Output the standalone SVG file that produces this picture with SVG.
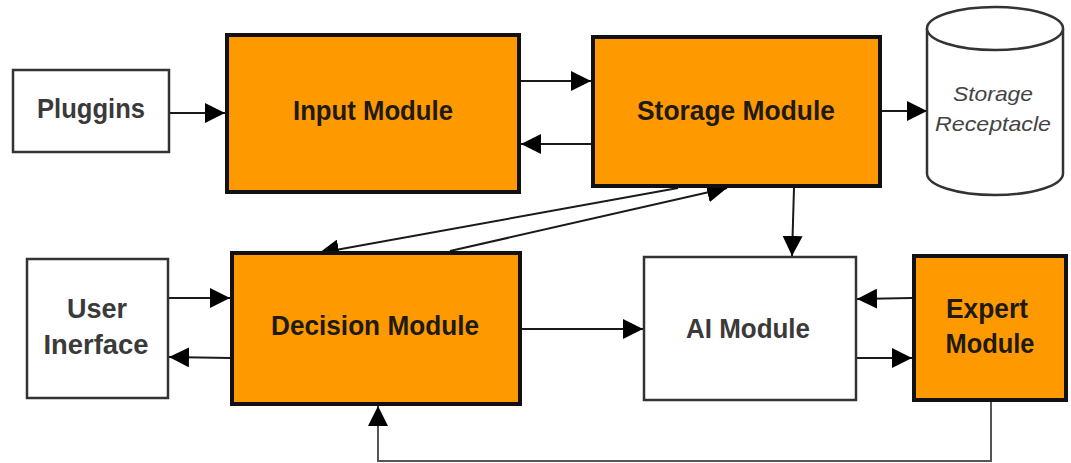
<svg xmlns="http://www.w3.org/2000/svg" width="1071" height="463" viewBox="0 0 1071 463">
<style>
.orange{fill:#fe9900;stroke:#111;stroke-width:4}
.white{fill:#fff;stroke:#333;stroke-width:2.5}
.bt{font-family:"Liberation Sans",Arial,sans-serif;font-weight:bold;font-size:28px;text-anchor:middle;lengthAdjust:spacingAndGlyphs}
.dark{fill:#1e1a14}
.grey{fill:#3a3a3a}
.it{font-family:"Liberation Sans",Arial,sans-serif;font-style:italic;font-size:21px;fill:#444;text-anchor:middle}
.con{stroke:#1a1a1a;stroke-width:2;fill:none;marker-end:url(#ah)}
.fb{stroke:#555;stroke-width:2;fill:none;marker-end:url(#ah)}
</style>
<defs>
<marker id="ah" markerUnits="userSpaceOnUse" markerWidth="20" markerHeight="20" refX="20" refY="10" orient="auto">
<path d="M0,0 L20,10 L0,20 z" fill="#000"/>
</marker>
</defs>
<rect width="1071" height="463" fill="#fff"/>
<g id="connectors">
<line class="con" x1="170" y1="113" x2="225" y2="113"/>
<line class="con" x1="521" y1="81" x2="591" y2="81"/>
<line class="con" x1="591" y1="144" x2="521" y2="144"/>
<line class="con" x1="882" y1="111" x2="927" y2="111"/>
<line class="con" x1="678" y1="188" x2="319" y2="253"/>
<line class="con" x1="450" y1="251" x2="727" y2="188"/>
<line class="con" x1="794" y1="188" x2="792" y2="256"/>
<line class="con" x1="169" y1="298" x2="230" y2="298"/>
<line class="con" x1="230" y1="358" x2="169" y2="357"/>
<line class="con" x1="522" y1="329" x2="643" y2="329"/>
<line class="con" x1="912" y1="298" x2="857" y2="299"/>
<line class="con" x1="857" y1="358" x2="912" y2="358"/>
<polyline class="fb" points="991,402 991,461 378,461 378,406"/>
</g>
<g id="pluggins">
<rect class="white" x="13" y="70" width="156" height="82"/>
<text class="bt grey" x="91" y="118" textLength="108" lengthAdjust="spacingAndGlyphs">Pluggins</text>
</g>
<g id="input-module">
<rect class="orange" x="227" y="35" width="292" height="157"/>
<text class="bt dark" x="373" y="120" textLength="160" lengthAdjust="spacingAndGlyphs">Input Module</text>
</g>
<g id="storage-module">
<rect class="orange" x="593" y="37" width="287" height="149"/>
<text class="bt dark" x="736" y="120" textLength="198" lengthAdjust="spacingAndGlyphs">Storage Module</text>
</g>
<g id="storage-receptacle">
<path d="M927,28.5 L927,173.5 A68,21.5 0 0 0 1063,173.5 L1063,28.5" fill="#fff" stroke="#333" stroke-width="2.5"/>
<ellipse cx="995" cy="28.5" rx="68" ry="21.5" fill="#fff" stroke="#333" stroke-width="2.5"/>
<text class="it" x="993" y="101" textLength="80" lengthAdjust="spacingAndGlyphs">Storage</text>
<text class="it" x="993" y="131" textLength="116" lengthAdjust="spacingAndGlyphs">Receptacle</text>
</g>
<g id="user-interface">
<rect class="white" x="27" y="259" width="141" height="139"/>
<text class="bt grey" x="97" y="318" textLength="60" lengthAdjust="spacingAndGlyphs">User</text>
<text class="bt grey" x="96" y="354" textLength="105" lengthAdjust="spacingAndGlyphs">Inerface</text>
</g>
<g id="decision-module">
<rect class="orange" x="232" y="253" width="288" height="151"/>
<text class="bt dark" x="375" y="335" textLength="208" lengthAdjust="spacingAndGlyphs">Decision Module</text>
</g>
<g id="ai-module">
<rect class="white" x="644" y="257" width="212" height="143"/>
<text class="bt grey" x="748" y="338" textLength="124" lengthAdjust="spacingAndGlyphs">AI Module</text>
</g>
<g id="expert-module">
<rect class="orange" x="914" y="256" width="152" height="144"/>
<text class="bt dark" x="987" y="318" textLength="82" lengthAdjust="spacingAndGlyphs">Expert</text>
<text class="bt dark" x="990" y="353" textLength="89" lengthAdjust="spacingAndGlyphs">Module</text>
</g>
</svg>
